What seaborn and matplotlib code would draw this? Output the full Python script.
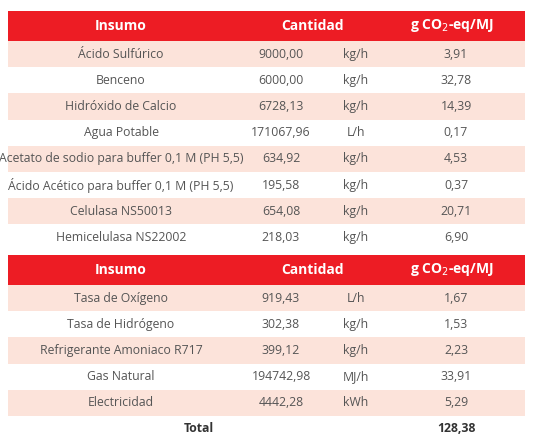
import matplotlib
matplotlib.use('Agg')
import matplotlib.pyplot as plt
import seaborn as sns

sns.set_theme(style='white')
plt.rcParams['font.family'] = ['Open Sans', 'DejaVu Sans']

# ---- data ----
insumo_1 = ['Ácido Sulfúrico', 'Benceno', 'Hidróxido de Calcio', 'Agua Potable',
            'Acetato de sodio para buffer 0,1 M (PH 5,5)',
            'Ácido Acético para buffer 0,1 M (PH 5,5)',
            'Celulasa NS50013', 'Hemicelulasa NS22002']
cantidad_1 = ['9000,00', '6000,00', '6728,13', '171067,96', '634,92', '195,58', '654,08', '218,03']
unidad_1 = ['kg/h', 'kg/h', 'kg/h', 'L/h', 'kg/h', 'kg/h', 'kg/h', 'kg/h']
co2_1 = ['3,91', '32,78', '14,39', '0,17', '4,53', '0,37', '20,71', '6,90']

insumo_2 = ['Tasa de Oxígeno', 'Tasa de Hidrógeno', 'Refrigerante Amoniaco R717',
            'Gas Natural', 'Electricidad']
cantidad_2 = ['919,43', '302,38', '399,12', '194742,98', '4442,28']
unidad_2 = ['L/h', 'kg/h', 'kg/h', 'MJ/h', 'kWh']
co2_2 = ['1,67', '1,53', '2,23', '33,91', '5,29']
total = '128,38'

headers = ['Insumo', 'Cantidad', 'g CO$_2$-eq/MJ']

RED = '#ED1C24'
PINK = '#FCE3DA'
TXT = '#555555'
X0, X1 = 8, 525
ROW = 26.2
HEAD = 30

fig = plt.figure(figsize=(5.33, 4.45), dpi=100)
ax = fig.add_axes([0, 0, 1, 1])
ax.set_xlim(0, 533)
ax.set_ylim(445, 0)
ax.axis('off')


def draw_block(y, ins, cant, uni, co2):
    ax.add_patch(plt.Rectangle((X0, y), X1 - X0, HEAD, color=RED, lw=0))
    hy = y + HEAD / 2
    ax.text(121, hy, headers[0], color='white', fontsize=10, weight='bold', ha='center', va='center')
    ax.text(312, hy, headers[1], color='white', fontsize=10, weight='bold', ha='center', va='center')
    ax.text(452, hy, headers[2], color='white', fontsize=10, weight='bold', ha='center', va='center')
    y += HEAD
    for i in range(len(ins)):
        if i % 2 == 0:
            ax.add_patch(plt.Rectangle((X0, y), X1 - X0, ROW, color=PINK, lw=0))
        cy = y + ROW / 2
        ax.text(121, cy, ins[i], color=TXT, fontsize=8.8, ha='center', va='center')
        ax.text(281, cy, cant[i], color=TXT, fontsize=8.8, ha='center', va='center')
        ax.text(356, cy, uni[i], color=TXT, fontsize=8.8, ha='center', va='center')
        ax.text(456, cy, co2[i], color=TXT, fontsize=8.8, ha='center', va='center')
        y += ROW
    return y


draw_block(11, insumo_1, cantidad_1, unidad_1, co2_1)
y_end = draw_block(255, insumo_2, cantidad_2, unidad_2, co2_2)
ax.text(199, y_end + 13, 'Total', color='#333333', fontsize=8.8, weight='bold', ha='center', va='center')
ax.text(456, y_end + 13, total, color='#333333', fontsize=8.8, weight='bold', ha='center', va='center')

fig.savefig('out.png', dpi=100)
